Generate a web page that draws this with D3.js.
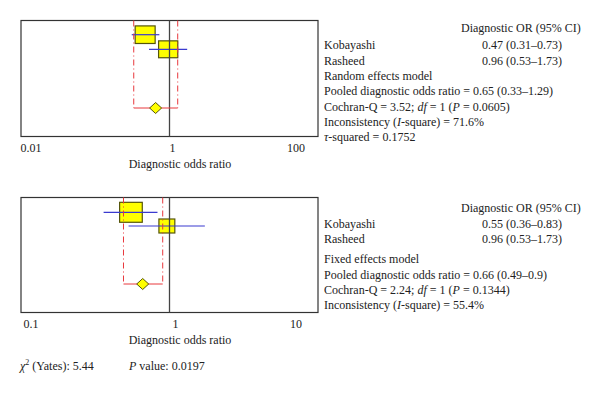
<!DOCTYPE html>
<html>
<head>
<meta charset="utf-8">
<script src="https://cdn.jsdelivr.net/npm/d3@7"></script>
<style>
body { margin: 0; background: #fff; }
svg text { font-family: "Liberation Serif", "DejaVu Serif", serif; font-size: 12px; fill: #222; }
</style>
</head>
<body>
<div id="chart"></div>
<script>
// study data
const studies = ["Kobayashi", "Rasheed"];

// random effects panel
const randOR = [0.47, 0.96],
randLo = [0.31, 0.53],
randHi = [0.73, 1.73],
randWeight = [52, 48];
const randPooled = [0.65, 0.33, 1.29];

// fixed effects panel
const fixOR = [0.55, 0.96],
fixLo = [0.36, 0.53],
fixHi = [0.83, 1.73],
fixWeight = [67, 33];
const fixPooled = [0.66, 0.49, 0.9];

const topTicks = [0.01, 1, 100],
botTicks = [0.1, 1, 10];

const width = 600, height = 393;

const svg = d3.select("#chart")
.append("svg")
.attr("width", width)
.attr("height", height);

// size of the squares from study weight
const sizeScale = d3.scaleSqrt().domain([0, 100]).range([0, 27.7]);

function drawPanel(opt) {
const x = d3.scaleLog()
.domain(opt.domain)
.range([21, 318]);

const g = svg.append("g");

const rows = opt.or.map((d, i) => ({
name: studies[i], or: d, lo: opt.lo[i], hi: opt.hi[i], w: opt.weight[i], y: opt.rowY[i]
}));

// box
g.append("rect")
.attr("x", x.range()[0])
.attr("y", opt.top)
.attr("width", x.range()[1] - x.range()[0])
.attr("height", opt.bottom - opt.top)
.attr("fill", "none")
.attr("stroke", "#333")
.attr("stroke-width", 1.2);

// squares
g.selectAll("rect.sq")
.data(rows)
.enter()
.append("rect")
.attr("class", "sq")
.attr("x", d => x(d.or) - sizeScale(d.w) / 2)
.attr("y", d => d.y - sizeScale(d.w) * 0.88 / 2)
.attr("width", d => sizeScale(d.w))
.attr("height", d => sizeScale(d.w) * 0.88)
.attr("fill", "#ffff00")
.attr("stroke", "#55550a")
.attr("stroke-width", 1.2);

// CI lines
g.selectAll("line.ci")
.data(rows)
.enter()
.append("line")
.attr("x1", d => x(d.lo))
.attr("x2", d => x(d.hi))
.attr("y1", d => d.y)
.attr("y2", d => d.y)
.attr("stroke", "#3a3ad0")
.attr("stroke-width", 1.2);

// line of no effect
g.append("line")
.attr("x1", x(1)).attr("x2", x(1))
.attr("y1", opt.top).attr("y2", opt.bottom)
.attr("stroke", "#444")
.attr("stroke-width", 1.3);

// pooled CI bounds
const p = opt.pooled;
[p[1], p[2]].forEach(v => {
g.append("line")
.attr("x1", x(v)).attr("x2", x(v))
.attr("y1", opt.top).attr("y2", opt.pooledY)
.attr("stroke", "#e8383d")
.attr("stroke-width", 1)
.attr("stroke-dasharray", "6,3,1,3");
});
g.append("line")
.attr("x1", x(p[1])).attr("x2", x(p[2]))
.attr("y1", opt.pooledY).attr("y2", opt.pooledY)
.attr("stroke", "#e8383d")
.attr("stroke-width", 1);

// diamond
const cx = x(p[0]), cy = opt.pooledY;
g.append("path")
.attr("d", `M${cx - 6},${cy}L${cx},${cy - 5.5}L${cx + 6},${cy}L${cx},${cy + 5.5}Z`)
.attr("fill", "#ffff00")
.attr("stroke", "#55550a")
.attr("stroke-width", 1);

// tick labels
g.selectAll("text.tick")
.data(opt.ticks)
.enter()
.append("text")
.attr("x", (d, i) => x(d) + opt.tickShift[i])
.attr("y", opt.bottom + 15.5)
.attr("text-anchor", "middle")
.text(d => String(d));

g.append("text")
.attr("x", 180)
.attr("y", opt.bottom + 31)
.attr("text-anchor", "middle")
.text("Diagnostic odds ratio");

// right side table
g.append("text")
.attr("x", 461)
.attr("y", opt.headY)
.text("Diagnostic OR (95% CI)");

rows.forEach((d, i) => {
g.append("text")
.attr("x", 324)
.attr("y", opt.textY[i])
.text(d.name);
g.append("text")
.attr("x", 522)
.attr("y", opt.textY[i])
.attr("text-anchor", "middle")
.text(`${d.or.toFixed(2)} (${d.lo.toFixed(2)}\u2013${d.hi.toFixed(2)})`);
});

opt.notes.forEach((parts, i) => {
const t = g.append("text")
.attr("x", 324)
.attr("y", opt.noteY[i]);
parts.forEach(s => {
t.append("tspan")
.style("font-style", s[1] ? "italic" : "normal")
.text(s[0]);
});
});
}

drawPanel({
domain: [0.01, 100], ticks: topTicks, tickShift: [10, 3, -22],
or: randOR, lo: randLo, hi: randHi, weight: randWeight, pooled: randPooled,
top: 20.5, bottom: 136.5, rowY: [34.7, 49.3], pooledY: 108,
headY: 32, textY: [49, 65], noteY: [80, 95.3, 110.5, 125.7, 141],
notes: [
[["Random effects model"]],
[[`Pooled diagnostic odds ratio = ${randPooled[0]} (${randPooled[1]}\u2013${randPooled[2]})`]],
[["Cochran-Q = 3.52; "], ["df", 1], [" = 1 ("], ["P", 1], [" = 0.0605)"]],
[["Inconsistency ("], ["I", 1], ["-square) = 71.6%"]],
[["\u03c4", 1], ["-squared = 0.1752"]]
]
});

drawPanel({
domain: [0.1, 10], ticks: botTicks, tickShift: [10, 6, -22],
or: fixOR, lo: fixLo, hi: fixHi, weight: fixWeight, pooled: fixPooled,
top: 197.5, bottom: 312.5, rowY: [212.3, 226], pooledY: 284,
headY: 212, textY: [228, 243], noteY: [263, 278.5, 294, 309],
notes: [
[["Fixed effects model"]],
[[`Pooled diagnostic odds ratio = ${fixPooled[0]} (${fixPooled[1]}\u2013${fixPooled[2]})`]],
[["Cochran-Q = 2.24; "], ["df", 1], [" = 1 ("], ["P", 1], [" = 0.1344)"]],
[["Inconsistency ("], ["I", 1], ["-square) = 55.4%"]]
]
});

// chi-square footer
const chi = svg.append("text").attr("x", 20).attr("y", 370);
chi.append("tspan").style("font-style", "italic").text("\u03c7");
chi.append("tspan").attr("dy", -5).style("font-size", "8px").text("2");
chi.append("tspan").attr("dy", 5).text(" (Yates): 5.44");

const pv = svg.append("text").attr("x", 129).attr("y", 370);
pv.append("tspan").style("font-style", "italic").text("P");
pv.append("tspan").text("  value: 0.0197");
</script>
</body>
</html>
